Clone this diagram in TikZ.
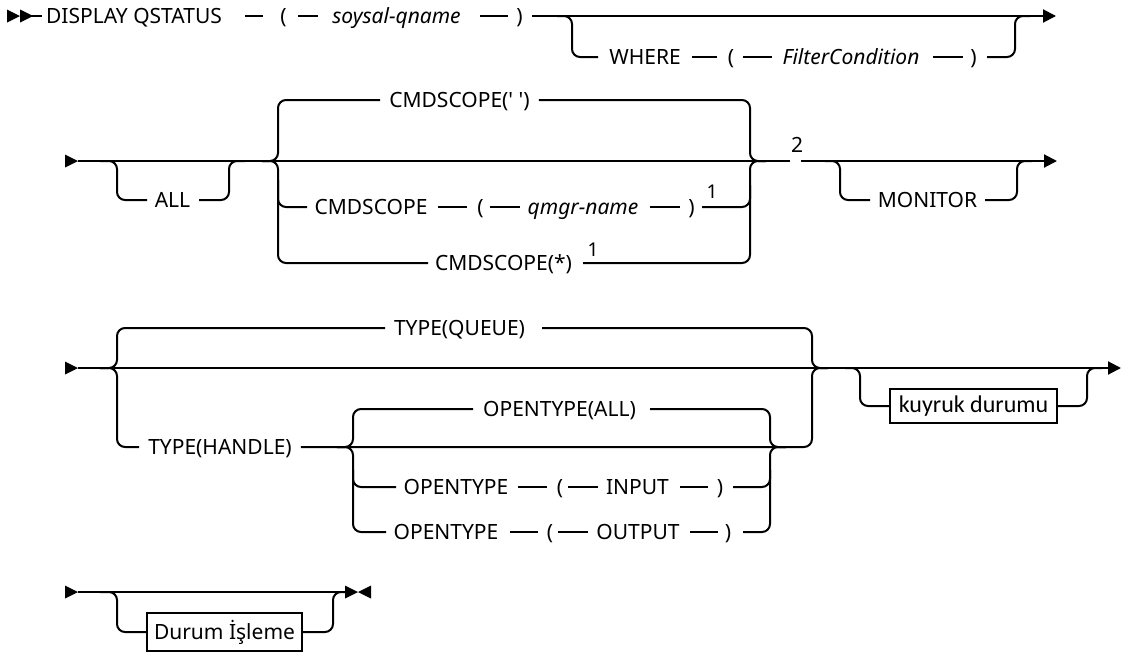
\documentclass[tikz,border=0pt]{standalone}
\usepackage{fontspec}
\setmainfont{Noto Sans}
\newfontfamily\plainsans{Noto Sans}
\newfontfamily\boxfont{Carlito}
\usetikzlibrary{arrows.meta}
\begin{document}
\begin{tikzpicture}[x=1pt,y=-1pt,
  rr/.style={line width=2pt, rounded corners=8pt},
  dsh/.style={line width=1.6pt},
  txt/.style={inner sep=0pt, anchor=base, font=\fontsize{21}{25}\selectfont},
  itx/.style={inner sep=0pt, anchor=base, font=\fontsize{21}{25}\selectfont\itshape},
  ftn/.style={inner sep=0pt, anchor=base, font=\fontsize{19}{22}\selectfont},
  endarr/.style={-{Triangle[length=13pt,width=13pt]}},
  boxn/.style={draw, line width=1.8pt, inner sep=0pt, font=\boxfont\fontsize{24}{28}\selectfont}
]
\useasboundingbox (0,0) rectangle (1121,653);

% ---------------- Row 1 ----------------
\fill (7,9.5) -- (20,16) -- (7,22.5) -- cycle;
\fill (20,9.5) -- (33,16) -- (20,22.5) -- cycle;
\draw[line width=2pt] (20,16) -- (42,16);
\node[txt] (disp) at (134,23.5) {DISPLAY QSTATUS};
\draw[dsh] (245,16) -- (263,16);
\node[txt] (lpa) at (283.5,23.5) {(};
\draw[dsh] (298,16) -- (318,16);
\node[itx] (qname) at (396.5,23.5) {soysal-qname};
\draw[dsh] (480,16) -- (508,16);
\node[txt] (rpa) at (519.5,23.5) {)};
\draw[rr, endarr] (532,16) -- (1056,16);
\draw[rr] (557,16) -- (572,16) -- (572,57) -- (598,57);
\node[txt] (where) at (645,64.5) {WHERE};
\draw[dsh] (692,57) -- (717,57);
\node[txt] (lpb) at (731,64.5) {(};
\draw[dsh] (743,57) -- (772,57);
\node[itx] (filt) at (851,64.5) {FilterCondition};
\draw[dsh] (933,57) -- (963,57);
\node[txt] (rpb) at (973.5,64.5) {)};
\draw[rr] (987,57) -- (1015,57) -- (1015,16) -- (1030,16);

% ---------------- Row 2 ----------------
\fill (65,154.5) -- (78,161) -- (65,167.5) -- cycle;
\draw[rr] (78,161) -- (790,161);
\draw[rr, endarr] (801,161) -- (1057,161);
% ALL
\draw[rr] (100,161) -- (117,161) -- (117,200) -- (147,200);
\node[txt] (all) at (172.5,207.5) {ALL};
\draw[rr] (199,200) -- (229,200) -- (229,161) -- (245,161);
% CMDSCOPE group
\node[txt, font=\plainsans\fontsize{21}{25}\selectfont] (cs1) at (459.5,107.5) {CMDSCOPE(' ')};
\draw[rr] (262,161) -- (278,161) -- (278,100) -- ([xshift=-9pt]cs1.west |- 0,100);
\draw[rr] ([xshift=9pt]cs1.east |- 0,100) -- (750,100) -- (750,161) -- (766,161);
\draw[rr] (262,161) -- (278,161) -- (278,263) -- (428,263);
\draw[rr] (278,180) -- (278,207) -- (307,207);
\node[txt] (cs2) at (371,214.5) {CMDSCOPE};
\draw[dsh] (438,207) -- (467,207);
\node[txt] (lpc) at (480.5,214.5) {(};
\draw[dsh] (490,207) -- (520,207);
\node[itx] (qmgr) at (583,214.5) {qmgr-name};
\draw[dsh] (650,207) -- (680,207);
\node[txt] (rpc) at (691.5,214.5) {)};
\node[ftn] (fa) at (712,198) {1};
\draw[rr] (702,207) -- (750,207) -- (750,185);
\node[txt] (cs3) at (503.5,270.5) {CMDSCOPE(*)};
\node[ftn] (fb) at (593,256) {1};
\draw[rr] (583,263) -- (750,263) -- (750,161) -- (766,161);
\node[txt] (fc) at (797,152) {2};
% MONITOR
\draw[rr] (825,161) -- (840,161) -- (840,200) -- (870,200);
\node[txt] (mon) at (927.5,207.5) {MONITOR};
\draw[rr] (985,200) -- (1017,200) -- (1017,161) -- (1032,161);

% ---------------- Row 3 ----------------
\fill (65,361.5) -- (78,368) -- (65,374.5) -- cycle;
\draw[rr, endarr] (78,368) -- (1121,368);
% TYPE group
\draw[rr] (100,368) -- (117,368) -- (117,328) -- (385,328);
\node[txt] (tq) at (459.5,335.5) {TYPE(QUEUE)};
\draw[rr] (542,328) -- (812,328) -- (812,368) -- (828,368);
\node[txt] (th) at (220,454.5) {TYPE(HANDLE)};
\draw[rr] (100,368) -- (117,368) -- (117,447) -- ([xshift=-9pt]th.west |- 0,447);
\draw[rr] ([xshift=9pt]th.east |- 0,447) -- (812,447) -- (812,368) -- (828,368);
% OPENTYPE group
\draw[rr] (337,447) -- (353,447) -- (353,409) -- (473,409);
\node[txt] (oa) at (559.5,416.5) {OPENTYPE(ALL)};
\draw[rr] (650,409) -- (770,409) -- (770,447) -- (786,447);
\draw[rr] (353,470) -- (353,487) -- (396,487);
\node[txt] (oi) at (456,494.5) {OPENTYPE};
\draw[dsh] (518,487) -- (547,487);
\node[txt] (lpd) at (560,494.5) {(};
\draw[dsh] (568,487) -- (598,487);
\node[txt] (inp) at (637.5,494.5) {INPUT};
\draw[dsh] (680,487) -- (708,487);
\node[txt] (rpd) at (720,494.5) {)};
\draw[rr] (733,487) -- (770,487) -- (770,470);
\draw[rr] (337,447) -- (353,447) -- (353,532) -- (386,532);
\node[txt] (oo) at (446,539.5) {OPENTYPE};
\draw[dsh] (510,532) -- (538,532);
\node[txt] (lpe) at (550,539.5) {(};
\draw[dsh] (558,532) -- (588,532);
\node[txt] (outp) at (638,539.5) {OUTPUT};
\draw[dsh] (690,532) -- (718,532);
\node[txt] (rpe) at (728,539.5) {)};
\draw[rr] (743,532) -- (770,532) -- (770,447) -- (786,447);
% kuyruk durumu
\draw[rr] (845,368) -- (860,368) -- (860,406) -- (890,406);
\node[boxn, minimum width=167pt, minimum height=34pt] (kd) at (973.5,406) {kuyruk durumu};
\draw[rr] (kd.east) -- (1087,406) -- (1087,368) -- (1102,368);

% ---------------- Row 4 ----------------
\fill (65,585.5) -- (78,592) -- (65,598.5) -- cycle;
\draw[rr] (78,592) -- (346,592);
\draw[rr] (100,592) -- (117,592) -- (117,632) -- (147,632);
\node[boxn, font=\fontsize{21}{25}\selectfont, minimum width=155pt, minimum height=38pt] (di) at (224.5,632) {Durum İşleme};
\draw[rr] (di.east) -- (333,632) -- (333,592) -- (348,592);
\fill (345,585.5) -- (358,592) -- (345,598.5) -- cycle;
\fill (371,585.5) -- (358,592) -- (371,598.5) -- cycle;
\end{tikzpicture}
\end{document}
